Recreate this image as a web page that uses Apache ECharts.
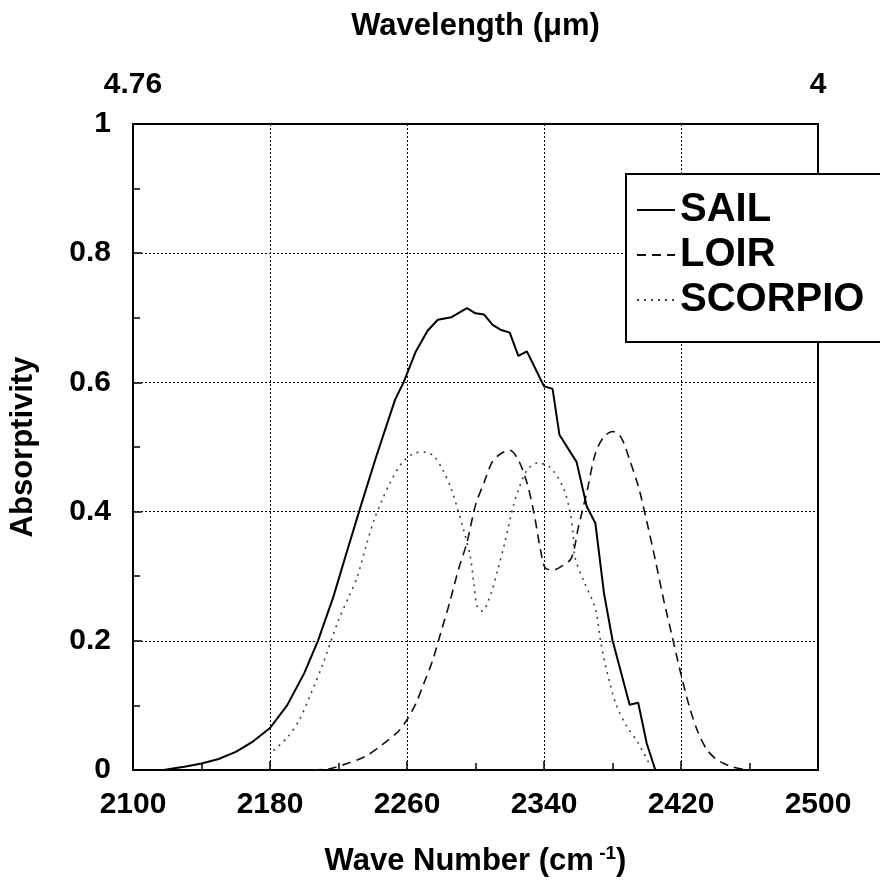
<!DOCTYPE html>
<html>
<head>
<meta charset="utf-8">
<script src="https://cdn.jsdelivr.net/npm/echarts@6/dist/echarts.min.js"></script>
<style>html,body{margin:0;padding:0;background:#fff}#c{width:880px;height:886px}</style>
</head>
<body>
<div id="c"></div>
<script>
// ---- data ----
var sailX = [2118,2125,2130,2140,2150,2160,2170,2180,2190,2200,2208,2217,2224,2232,2242,2253,2258,2265,2272,2278,2286,2295,2300,2305,2310,2315,2320,2325,2330,2340,2345,2349,2359,2365,2370,2375,2380,2390,2395,2400,2405];
var sailY = [0,0.003,0.005,0.01,0.017,0.028,0.044,0.065,0.1,0.15,0.2,0.268,0.33,0.4,0.485,0.573,0.6,0.647,0.68,0.697,0.701,0.715,0.707,0.705,0.689,0.681,0.677,0.641,0.648,0.594,0.59,0.519,0.477,0.408,0.382,0.274,0.201,0.101,0.104,0.041,0];

var loirX = [2205,2215,2225,2235,2245,2255,2260,2265,2270,2275,2280,2285,2290,2295,2300,2305,2310,2315,2320,2325,2330,2334,2338,2341,2346,2350,2356,2360,2365,2370,2375,2380,2385,2390,2395,2400,2405,2410,2415,2420,2425,2430,2435,2440,2445,2450,2458];
var loirY = [0,0.002,0.01,0.02,0.038,0.06,0.078,0.102,0.135,0.17,0.215,0.26,0.31,0.352,0.41,0.445,0.478,0.49,0.495,0.48,0.445,0.4,0.34,0.312,0.31,0.315,0.328,0.375,0.43,0.49,0.516,0.524,0.515,0.48,0.44,0.385,0.325,0.262,0.205,0.148,0.097,0.058,0.032,0.018,0.01,0.005,0];

var scorpioX = [2182,2190,2197,2204,2211,2220,2226,2231,2236,2241,2245,2250,2257,2265,2271,2276,2281,2286,2293,2297,2299,2301,2304,2309,2313,2317,2322,2325,2330,2336,2343,2351,2355,2357,2358,2363,2370,2373,2377,2382,2388,2395,2401];
var scorpioY = [0.03,0.05,0.077,0.119,0.165,0.232,0.268,0.299,0.346,0.389,0.415,0.444,0.475,0.491,0.492,0.485,0.464,0.434,0.372,0.33,0.289,0.253,0.246,0.273,0.31,0.351,0.408,0.433,0.464,0.475,0.47,0.439,0.402,0.366,0.33,0.294,0.25,0.2,0.15,0.102,0.069,0.042,0.012];

var seriesNames = ['SAIL','LOIR','SCORPIO'];
var yTicks = [0,0.2,0.4,0.6,0.8,1];
var xTicks = [2100,2180,2260,2340,2420,2500];
var topTickLabels = {2100:'4.76', 2500:'4'};

function pairs(xs, ys){ return xs.map(function(x,i){ return [x, ys[i]]; }); }

var FONT = 'Liberation Sans, Arial, Helvetica, sans-serif';
var W = 'bold';
var chart = echarts.init(document.getElementById('c'), null, {renderer:'canvas'});
chart.setOption({
  animation: false,
  backgroundColor: '#fff',
  textStyle: {fontFamily: FONT, color: '#000'},
  grid: {left: 133, right: 62, top: 124, bottom: 116, outerBoundsMode: 'none', containLabel: false,
    show: true, borderColor: '#000', borderWidth: 2, backgroundColor: 'transparent'},
  legend: {
    orient: 'vertical', left: 626, top: 174,
    data: seriesNames,
    backgroundColor: '#fff', borderColor: '#000', borderWidth: 2,
    padding: [16, 40, 22, 10],
    itemWidth: 38, itemHeight: 14, itemGap: 5,
    selectedMode: false,
    itemStyle: {color: 'rgba(0,0,0,0)', borderColor: 'rgba(0,0,0,0)', borderWidth: 0},
    textStyle: {fontFamily: FONT, fontWeight: W, fontSize: 40, color: '#000', lineHeight: 40}
  },
  xAxis: [{
    type: 'value', position: 'bottom', min: xTicks[0], max: xTicks[xTicks.length-1], interval: 80,
    name: 'Wave Number (cm{sup| -1})', nameLocation: 'middle', nameGap: 74,
    nameTextStyle: {fontFamily: FONT, fontWeight: W, fontSize: 31, color: '#000', rich: {sup: {fontFamily: FONT, fontWeight: W, fontSize: 19, color: '#000', padding: [0,0,16,0]}}},
    axisLine: {show: true, lineStyle: {color: '#000', width: 2}},
    axisTick: {show: true, inside: true, length: 9, lineStyle: {color: '#000', width: 1.5}},
    minorTick: {show: true, splitNumber: 2, length: 7, lineStyle: {color: '#000', width: 1.5}},
    axisLabel: {fontFamily: FONT, fontWeight: W, fontSize: 30, color: '#000', margin: 20,
      formatter: function(v){ return String(v); }},
    splitLine: {show: true, lineStyle: {color: '#000', type: [2,2], width: 1}}
  }, {
    type: 'value', position: 'top', min: xTicks[0], max: xTicks[xTicks.length-1], interval: 400,
    name: 'Wavelength (\u03bcm)', nameLocation: 'middle', nameGap: 82,
    nameTextStyle: {fontFamily: FONT, fontWeight: W, fontSize: 31, color: '#000'},
    axisLine: {show: false}, axisTick: {show: false}, splitLine: {show: false},
    axisLabel: {fontFamily: FONT, fontWeight: W, fontSize: 30, color: '#000', margin: 24,
      formatter: function(v){ return topTickLabels[v] || ''; }}
  }],
  yAxis: [{
    type: 'value', min: yTicks[0], max: yTicks[yTicks.length-1], interval: 0.2,
    name: 'Absorptivity', nameLocation: 'middle', nameGap: 94, nameRotate: 90,
    nameTextStyle: {fontFamily: FONT, fontWeight: W, fontSize: 31, color: '#000'},
    axisLine: {show: true, lineStyle: {color: '#000', width: 2}},
    axisTick: {show: true, inside: true, length: 9, lineStyle: {color: '#000', width: 1.5}},
    minorTick: {show: true, splitNumber: 2, length: 7, lineStyle: {color: '#000', width: 1.5}},
    axisLabel: {fontFamily: FONT, fontWeight: W, fontSize: 30, color: '#000', margin: 22,
      formatter: function(v){ return String(Math.round(v*10)/10); }},
    splitLine: {show: true, lineStyle: {color: '#000', type: [2,2], width: 1}}
  }],
  series: [{
    name: seriesNames[0], type: 'line', xAxisIndex: 0, data: pairs(sailX, sailY),
    symbol: 'none', smooth: false, z: 5,
    lineStyle: {color: '#000', width: 2, type: 'solid'}, itemStyle: {color: '#000'}
  }, {
    name: seriesNames[1], type: 'line', xAxisIndex: 0, data: pairs(loirX, loirY),
    symbol: 'none', smooth: 0.3, z: 4,
    lineStyle: {color: '#111', width: 1.6, type: [9, 6]}, itemStyle: {color: '#111'}
  }, {
    name: seriesNames[2], type: 'line', xAxisIndex: 0, data: pairs(scorpioX, scorpioY),
    symbol: 'none', smooth: 0.3, z: 3,
    lineStyle: {color: '#444', width: 1.6, type: [2, 5]}, itemStyle: {color: '#444'}
  }]
});
</script>
</body>
</html>
